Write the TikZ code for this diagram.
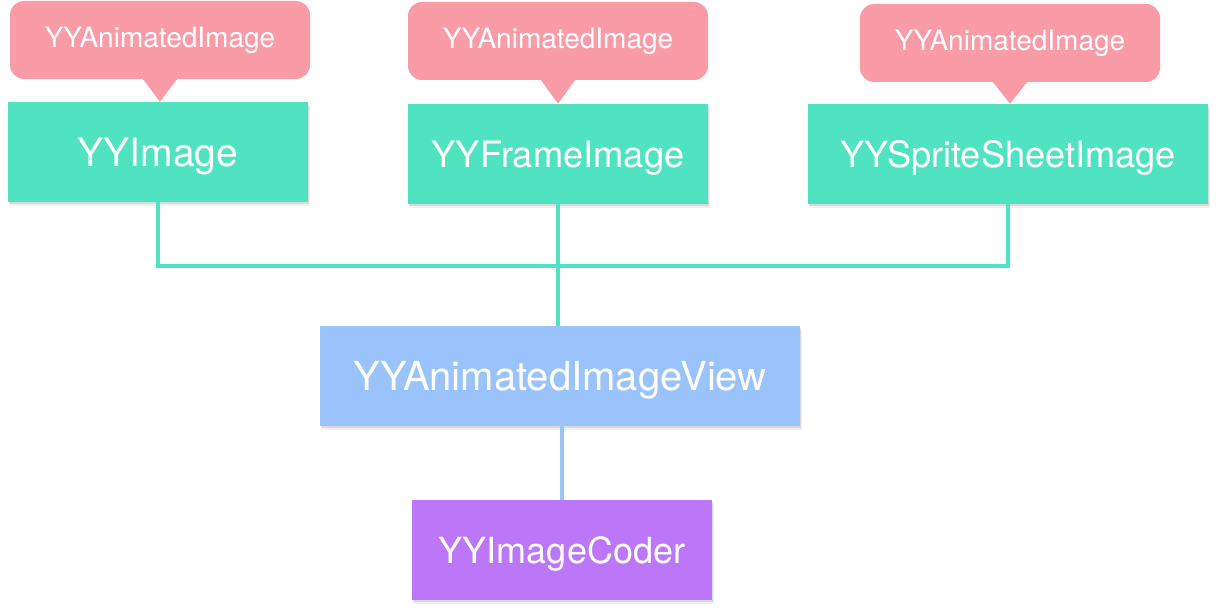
\documentclass[tikz,border=0pt]{standalone}
\usepackage{fontspec}
\setmainfont{TeX Gyre Heros}
\usepackage{xcolor}
\definecolor{boxgreen}{HTML}{50E3C2}
\definecolor{tagpink}{HTML}{FA9BA8}
\definecolor{viewblue}{HTML}{99C3FA}
\definecolor{coderpurple}{HTML}{BB77F8}
\usetikzlibrary{shadows}

\begin{document}
\begin{tikzpicture}[x=1pt, y=-1pt,
    box/.style={fill=boxgreen, text=white, inner sep=0pt, text depth=0pt,
      minimum width=300pt, minimum height=100pt, font=\fontsize{39}{39}\selectfont,
      drop shadow={shadow xshift=1pt, shadow yshift=-2pt, opacity=0.2},
      drop shadow={shadow xshift=2pt, shadow yshift=-4pt, opacity=0.12}},
    tag/.style={fill=tagpink, text=white, inner sep=0pt,
      rounded corners=14pt, minimum width=300pt, minimum height=78pt,
      font=\fontsize{28}{28}\selectfont},
    link/.style={line width=4pt}]
    \useasboundingbox (0,0) rectangle (1216,612);
    % class boxes
    \node[box] (img) at (158,152) {YYImage};
    \node[box, font=\fontsize{36.3}{36}\selectfont] (frame) at (558,154) {YYFrameImage};
    \node[box, minimum width=400pt, font=\fontsize{36.2}{36}\selectfont] (sprite) at (1008,154) {YYSpriteSheetImage};
    \node[box, fill=viewblue, minimum width=480pt, font=\fontsize{40}{40}\selectfont] (view) at (560,376) {YYAnimatedImageView};
    \node[box, fill=coderpurple, font=\fontsize{36}{36}\selectfont] (coder) at (562,550) {YYImageCoder};
    % protocol tags
    \node[tag] (tagimg) at (160,40) {YYAnimatedImage};
    \node[tag] (tagframe) at (558,41) {YYAnimatedImage};
    \node[tag] (tagsprite) at (1010,43) {YYAnimatedImage};
    \foreach \t/\b in {tagimg/img, tagframe/frame, tagsprite/sprite}
      \fill[tagpink] ([xshift=-17pt]\t.south) -- (\t.south |- \b.north)
        -- ([xshift=17pt]\t.south) -- cycle;
    % links
    \draw[link, boxgreen] (img.south) -- ++(0,64) -| (sprite.south);
    \draw[link, boxgreen] (frame.south) -- (frame.south |- view.north);
    \draw[link, viewblue] (coder.north |- view.south) -- (coder.north);
\end{tikzpicture}
\end{document}
